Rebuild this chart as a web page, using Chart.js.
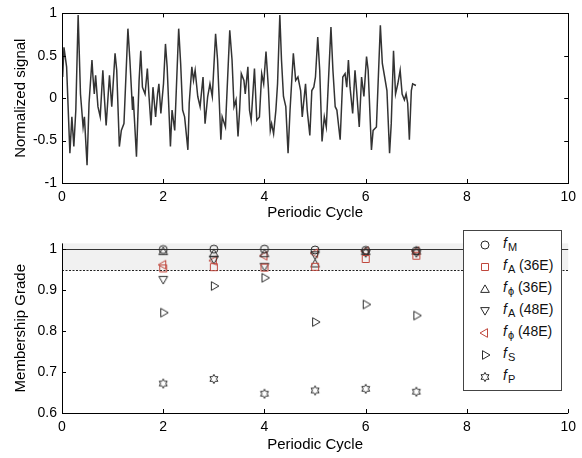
<!DOCTYPE html>
<html>
<head>
<meta charset="utf-8">
<script src="https://cdn.jsdelivr.net/npm/chart.js@4.4.1/dist/chart.umd.min.js"></script>
<style>
  body { margin: 0; background: #fff; }
  #wrap { position: relative; width: 582px; height: 458px; font-family: 'Liberation Sans', Arial, sans-serif; }
  #top { position: absolute; left: 0; top: 0; }
  #bottom { position: absolute; left: 0; top: 230px; }
  #legend { position: absolute; left: 463px; top: 230px; width: 99px; height: 161px;
            border: 1px solid #444; background: #fff; box-sizing: border-box; }
  .row { position: absolute; left: 0; height: 22px; width: 100%; font-size: 14px; color: #111; }
  .row canvas { position: absolute; left: 15px; top: 5px; }
  .row span { position: absolute; left: 39px; top: 0px; white-space: nowrap; line-height: 18px; }
  .row i { font-style: italic; }
  .row sub { font-size: 11px; position: relative; top: 3px; vertical-align: baseline; margin-left: 1px; }
</style>
</head>
<body>
<div id="wrap">
  <canvas id="top" width="582" height="230"></canvas>
  <canvas id="bottom" width="582" height="228"></canvas>
  <div id="legend"></div>
</div>
<script>
// upper panel: normalized signal at its turning points
const signalCycle = [
  0.013, 0.039, 0.091, 0.143, 0.156, 0.195, 0.234, 0.273, 0.319, 0.365,
  0.417, 0.443, 0.495, 0.534, 0.592, 0.612, 0.638, 0.664, 0.710, 0.755,
  0.807, 0.840, 0.872, 0.938, 0.983, 1.048, 1.081, 1.133, 1.172, 1.224,
  1.302, 1.341, 1.393, 1.406, 1.432, 1.471, 1.523, 1.556, 1.589, 1.641,
  1.686, 1.719, 1.758, 1.797, 1.849, 1.888, 1.914, 1.953, 2.005, 2.044,
  2.077, 2.142, 2.174, 2.227, 2.305, 2.344, 2.383, 2.422, 2.487, 2.513,
  2.565, 2.598, 2.630, 2.682, 2.728, 2.786, 2.826, 2.878, 2.923, 2.969,
  3.034, 3.073, 3.138, 3.164, 3.229, 3.314, 3.359, 3.398, 3.438, 3.477,
  3.509, 3.542, 3.594, 3.620, 3.672, 3.704, 3.737, 3.802, 3.848, 3.900,
  3.945, 3.984, 4.030, 4.076, 4.115, 4.141, 4.180, 4.225, 4.258, 4.303,
  4.336, 4.375, 4.421, 4.466, 4.505, 4.570, 4.616, 4.661, 4.714, 4.746,
  4.779, 4.811, 4.844, 4.896, 4.935, 4.974, 5.007, 5.052, 5.091, 5.137,
  5.182, 5.221, 5.313, 5.352, 5.397, 5.430, 5.495, 5.547, 5.592, 5.625,
  5.658, 5.690, 5.742, 5.788, 5.820, 5.872, 5.918, 5.964, 6.016, 6.048,
  6.113, 6.146, 6.211, 6.289, 6.328, 6.374, 6.419, 6.471, 6.504, 6.549,
  6.589, 6.634, 6.680, 6.719, 6.764, 6.797, 6.829, 6.862, 6.901, 6.927,
  6.992
];
const signalValue = [
  0.25, 0.60, 0.37, -0.45, -0.65, -0.22, -0.57, -0.14, 0.98, 0.05,
  -0.34, -0.22, -0.79, -0.06, 0.45, 0.25, 0.05, 0.27, -0.10, -0.22,
  0.33, -0.02, -0.32, 0.27, -0.10, 0.53, 0.33, -0.57, -0.38, -0.30,
  0.82, 0.45, -0.14, 0.02, -0.26, -0.69, 0.21, 0.56, 0.13, 0.05,
  0.35, 0.02, -0.32, 0.13, -0.22, 0.05, 0.17, -0.18, 0.17, 0.64,
  0.37, -0.57, -0.14, -0.38, 0.82, 0.41, -0.14, -0.22, -0.61, -0.06,
  0.37, 0.21, 0.33, 0.02, -0.10, 0.25, -0.30, 0.02, 0.17, 0.02,
  0.76, 0.45, -0.49, -0.22, -0.34, 0.80, 0.45, -0.10, -0.02, -0.45,
  -0.14, 0.29, 0.21, 0.05, 0.37, -0.14, -0.26, 0.35, -0.26, -0.22,
  0.29, 0.17, 0.55, 0.13, -0.38, -0.30, -0.42, -0.14, 0.17, 0.98,
  0.45, 0.02, -0.10, -0.65, -0.14, 0.53, 0.21, 0.25, 0.09, -0.22,
  -0.02, 0.17, -0.14, -0.44, 0.09, 0.13, 0.25, 0.72, 0.33, -0.51,
  -0.22, -0.34, 0.84, 0.33, -0.10, -0.14, -0.49, 0.25, 0.29, 0.13,
  0.45, 0.13, -0.18, 0.33, 0.09, -0.34, 0.25, 0.02, 0.49, 0.33,
  -0.61, -0.38, -0.34, 0.86, 0.41, 0.25, 0.09, -0.65, -0.30, 0.56,
  0.05, 0.17, 0.33, 0.05, -0.02, 0.05, -0.06, -0.49, 0.09, 0.17,
  0.15
];

// lower panel: membership grades per periodic cycle
const cycles = [2, 3, 4, 5, 6, 7];
const fM     = [0.999, 1.000, 1.000, 0.998, 0.997, 0.996];
const fA36   = [0.953, 0.956, 0.955, 0.957, 0.976, 0.984];
const fPhi36 = [0.995, 0.990, 0.990, 0.965, 0.995, 0.996];
const fA48   = [0.925, 0.974, 0.957, 0.985, 0.990, 0.990];
const fPhi48 = [0.962, 0.972, 0.984, 0.990, 0.995, 0.995];
const fS     = [0.845, 0.910, 0.930, 0.822, 0.865, 0.838];
const fP     = [0.672, 0.683, 0.647, 0.655, 0.659, 0.652];
const BAND = [0.95, 1.0];

const BLACK = '#2b2b2b';
const RED = '#c0473c';
const FONT = "'Liberation Sans', Arial, sans-serif";

const series = [
  { sym: 'M', tail: '', data: fM, marker: 'circle', color: BLACK },
  { sym: 'A', tail: ' (36E)', data: fA36, marker: 'square', color: RED },
  { sym: 'ϕ', tail: ' (36E)', data: fPhi36, marker: 'up', color: BLACK },
  { sym: 'A', tail: ' (48E)', data: fA48, marker: 'down', color: BLACK },
  { sym: 'ϕ', tail: ' (48E)', data: fPhi48, marker: 'left', color: RED },
  { sym: 'S', tail: '', data: fS, marker: 'right', color: BLACK },
  { sym: 'P', tail: '', data: fP, marker: 'hex', color: BLACK }
];

Chart.defaults.font.family = FONT;
Chart.defaults.color = '#000';

// small outline markers, MATLAB style
function makeMarker(kind, color) {
  const s = 12, m = 6;
  const c = document.createElement('canvas');
  c.width = s; c.height = s;
  const ctx = c.getContext('2d');
  ctx.strokeStyle = color;
  ctx.lineWidth = 1;
  ctx.beginPath();
  if (kind === 'circle') {
    ctx.arc(m, m, 4, 0, Math.PI * 2);
  } else if (kind === 'square') {
    ctx.rect(m - 3.5, m - 3.5, 7, 7);
  } else if (kind === 'hex') {
    for (let k = 0; k < 12; k++) {
      const r = k % 2 === 0 ? 4.6 : 2.6;
      const a = k * Math.PI / 6;
      const px = m + r * Math.sin(a), py = m - r * Math.cos(a);
      if (k === 0) ctx.moveTo(px, py); else ctx.lineTo(px, py);
    }
    ctx.closePath();
  } else {
    const rot = { up: 0, right: 90, down: 180, left: 270 }[kind] * Math.PI / 180;
    for (let k = 0; k < 3; k++) {
      const a = rot + k * 2 * Math.PI / 3;
      const px = m + 5 * Math.sin(a), py = m - 5 * Math.cos(a) + (kind === 'up' ? 0.9 : kind === 'down' ? -0.9 : 0);
      if (k === 0) ctx.moveTo(px, py); else ctx.lineTo(px, py);
    }
    ctx.closePath();
  }
  ctx.stroke();
  return c;
}

function innerTicks(ctx, scale, area, sides) {
  const len = 4;
  ctx.save();
  ctx.strokeStyle = '#000';
  ctx.lineWidth = 1;
  ctx.beginPath();
  scale.ticks.forEach(t => {
    const p = Math.round(scale.getPixelForValue(t.value)) + 0.5;
    if (scale.isHorizontal()) {
      if (sides.includes('bottom')) { ctx.moveTo(p, area.bottom); ctx.lineTo(p, area.bottom - len); }
      if (sides.includes('top')) { ctx.moveTo(p, area.top); ctx.lineTo(p, area.top + len); }
    } else {
      if (sides.includes('left')) { ctx.moveTo(area.left, p); ctx.lineTo(area.left + len, p); }
      if (sides.includes('right')) { ctx.moveTo(area.right, p); ctx.lineTo(area.right - len, p); }
    }
  });
  ctx.stroke();
  ctx.restore();
}

const framePlugin = {
  id: 'frame',
  afterDraw(chart) {
    const { ctx, chartArea: a, scales } = chart;
    ctx.save();
    ctx.strokeStyle = '#000';
    ctx.lineWidth = 1;
    ctx.strokeRect(Math.round(a.left) + 0.5, Math.round(a.top) + 0.5,
                   Math.round(a.right - a.left), Math.round(a.bottom - a.top));
    ctx.restore();
    innerTicks(ctx, scales.x, a, ['top', 'bottom']);
    innerTicks(ctx, scales.y, a, ['left', 'right']);
  }
};

const bandPlugin = {
  id: 'band',
  beforeDatasetsDraw(chart) {
    const { ctx, chartArea: a, scales: { y } } = chart;
    const yLo = Math.round(y.getPixelForValue(BAND[0])) + 0.5;
    const yHi = Math.round(y.getPixelForValue(BAND[1])) + 0.5;
    ctx.save();
    ctx.fillStyle = '#f1f1f1';
    ctx.fillRect(a.left, a.top, a.right - a.left, yLo - a.top);
    ctx.lineWidth = 1;
    ctx.strokeStyle = '#333';
    ctx.beginPath();
    ctx.moveTo(a.left, yHi); ctx.lineTo(a.right, yHi);
    ctx.stroke();
    ctx.setLineDash([2, 1.5]);
    ctx.strokeStyle = '#222';
    ctx.beginPath();
    ctx.moveTo(a.left, yLo); ctx.lineTo(a.right, yLo);
    ctx.stroke();
    ctx.restore();
  },
  afterDraw(chart) {
    const { ctx, chartArea: a, scales } = chart;
    ctx.save();
    ctx.strokeStyle = '#000';
    ctx.lineWidth = 1;
    ctx.beginPath();
    const l = Math.round(a.left) + 0.5, b = Math.round(a.bottom) + 0.5;
    ctx.moveTo(l, a.top); ctx.lineTo(l, b); ctx.lineTo(a.right, b);
    ctx.stroke();
    ctx.restore();
    innerTicks(ctx, scales.x, a, ['bottom']);
    innerTicks(ctx, scales.y, a, ['left']);
  }
};

// MATLAB-like labels: 1 rather than 1.0
const plainLabel = v => String(Number(v.toFixed(2)));

function xScale(titlePad, height) {
  return {
    type: 'linear', min: 0, max: 10,
    ticks: { stepSize: 2, padding: 6, font: { size: 14 }, callback: plainLabel },
    grid: { display: false, drawTicks: false },
    border: { display: false },
    title: { display: true, text: 'Periodic Cycle', font: { size: 15 }, padding: { top: 0, bottom: titlePad } },
    afterFit: s => { s.height = height; }
  };
}

function yScale(min, max, step, text) {
  return {
    min: min, max: max,
    ticks: { stepSize: step, padding: 5, includeBounds: false, font: { size: 14 }, callback: plainLabel },
    grid: { display: false, drawTicks: false },
    border: { display: false },
    title: { display: true, text: text, font: { size: 15 }, padding: { top: 12, bottom: 0 } },
    afterFit: s => { s.width = 62; }
  };
}

new Chart(document.getElementById('top'), {
  type: 'scatter',
  data: {
    datasets: [{
      data: signalCycle.map((c, i) => ({ x: c, y: signalValue[i] })),
      showLine: true,
      borderColor: '#333',
      borderWidth: 1.5,
      pointRadius: 0,
      tension: 0
    }]
  },
  options: {
    responsive: false,
    animation: false,
    layout: { padding: { top: 13, right: 8, left: 0, bottom: 0 } },
    plugins: { legend: { display: false }, tooltip: { enabled: false } },
    scales: {
      x: xScale(8, 47),
      y: yScale(-1, 1, 0.5, 'Normalized signal')
    }
  },
  plugins: [framePlugin]
});

const markers = series.map(s => makeMarker(s.marker, s.color));

new Chart(document.getElementById('bottom'), {
  type: 'scatter',
  data: {
    datasets: series.map((s, k) => ({
      data: cycles.map((c, i) => ({ x: c, y: s.data[i] })),
      pointStyle: markers[k],
      pointRadius: 5,
      clip: false
    }))
  },
  options: {
    responsive: false,
    animation: false,
    layout: { padding: { top: 9, right: 8, left: 0, bottom: 0 } },
    plugins: { legend: { display: false }, tooltip: { enabled: false } },
    scales: {
      x: xScale(4, 45),
      y: yScale(0.6, 1.014, 0.1, 'Membership Grade')
    }
  },
  plugins: [bandPlugin]
});

// legend box with real text and subscripts
const legend = document.getElementById('legend');
series.forEach((s, k) => {
  const row = document.createElement('div');
  row.className = 'row';
  row.style.top = (3 + k * 22) + 'px';
  const mk = makeMarker(s.marker, s.color);
  row.appendChild(mk);
  const label = document.createElement('span');
  label.innerHTML = '<i>f</i><sub>' + s.sym + '</sub>' + s.tail;
  row.appendChild(label);
  legend.appendChild(row);
});
</script>
</body>
</html>
